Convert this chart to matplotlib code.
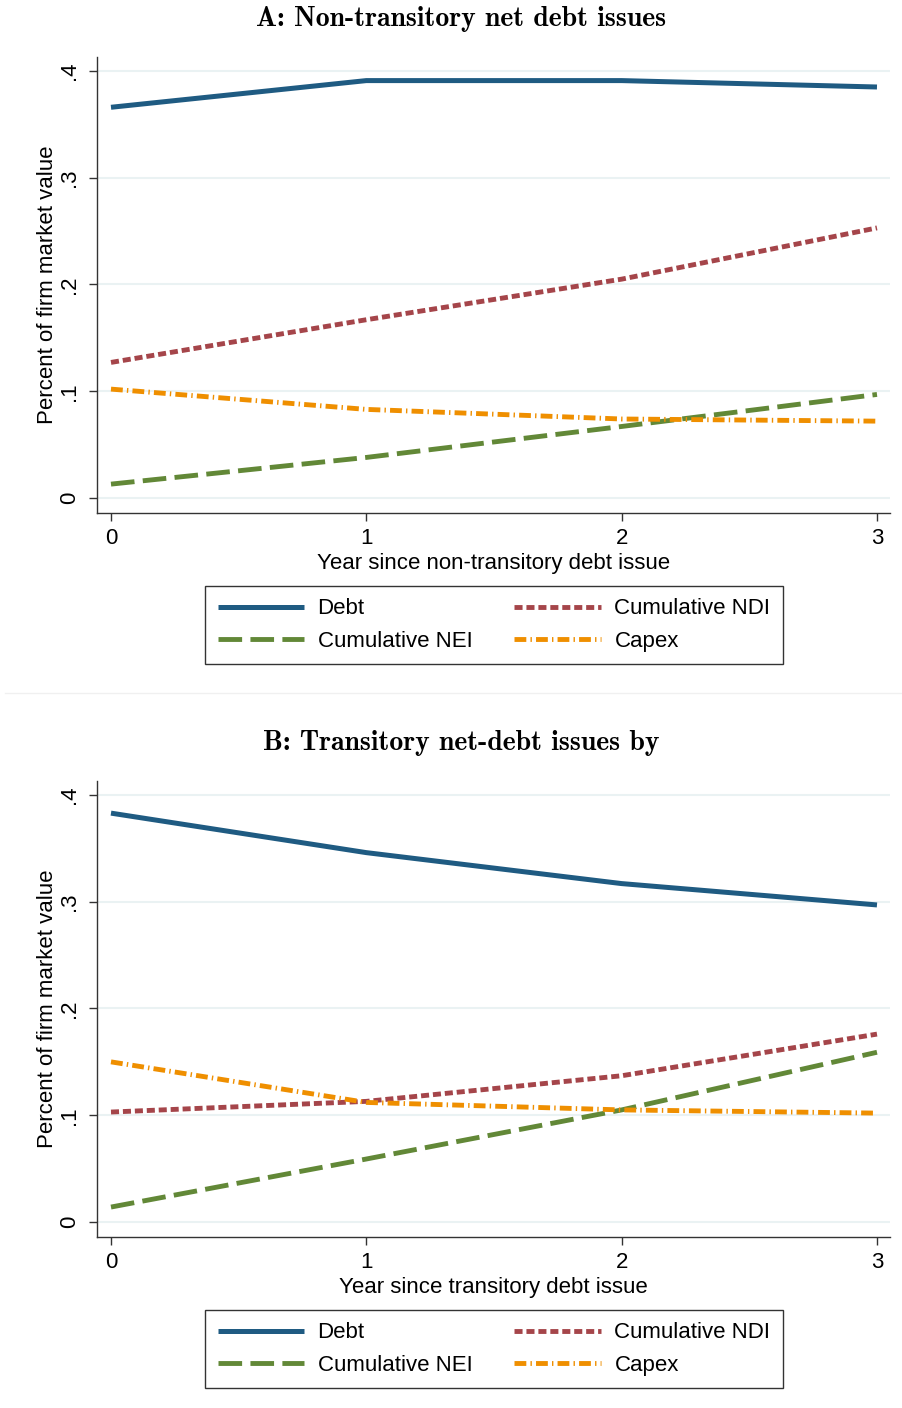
import matplotlib
matplotlib.use("Agg")
import matplotlib.pyplot as plt
from matplotlib.lines import Line2D

plt.rcParams['font.family'] = ['Liberation Sans', 'DejaVu Sans']
plt.rcParams['lines.scale_dashes'] = False

years = [0, 1, 2, 3]

# panel A: non-transitory issues
debt_a = [0.366, 0.391, 0.391, 0.385]
ndi_a = [0.127, 0.167, 0.205, 0.253]
nei_a = [0.013, 0.038, 0.067, 0.097]
capex_a = [0.102, 0.083, 0.074, 0.072]

# panel B: transitory issues
debt_b = [0.383, 0.346, 0.317, 0.297]
ndi_b = [0.103, 0.113, 0.137, 0.176]
nei_b = [0.014, 0.059, 0.105, 0.159]
capex_b = [0.150, 0.112, 0.105, 0.102]

titles = ['A: Non-transitory net debt issues', 'B: Transitory net-debt issues by']
xlabels = ['Year since non-transitory debt issue', 'Year since transitory debt issue']
yticks = [0, 0.1, 0.2, 0.3, 0.4]
ytick_labels = ['0', '.1', '.2', '.3', '.4']
series_names = ['Debt', 'Cumulative NEI', 'Cumulative NDI', 'Capex']

W, H = 902, 1408
fig = plt.figure(figsize=(W / 100, H / 100), dpi=100)


def px_axes(left, top, right, bottom):
    return fig.add_axes([left / W, 1 - bottom / H, (right - left) / W, (bottom - top) / H])


def draw_panel(offset, title, xlabel, debt, ndi, nei, capex):
    ax = px_axes(97, 57 + offset, 890, 513 + offset)
    styles = {
        'Debt': dict(color='#1f5b82', lw=3.6, ls='-'),
        'Cumulative NEI': dict(color='#628837', lw=3.5, dashes=(17, 6)),
        'Cumulative NDI': dict(color='#a5454a', lw=3.5, dashes=(5.8, 2.8)),
        'Capex': dict(color='#ef8f00', lw=3.5, dashes=(8.5, 3, 1, 3)),
    }
    values = {'Debt': debt, 'Cumulative NEI': nei, 'Cumulative NDI': ndi, 'Capex': capex}
    handles = []
    for name in series_names:
        st = styles[name]
        ln, = ax.plot(years, values[name], label=name, solid_capstyle='butt',
                      dash_capstyle='butt', **st)
        handles.append(ln)

    ax.set_xlim(-0.0548, 3.051)
    ax.set_ylim(-0.01405, 0.4131)
    ax.set_xticks(years)
    ax.set_yticks(yticks)
    ax.set_yticklabels(ytick_labels, rotation=90, va='center')
    ax.tick_params(axis='both', labelsize=16, length=6, width=1, color='#333333', pad=5)
    ax.tick_params(axis='y', pad=6)
    ax.grid(axis='y', color='#eaf2f3', lw=1.5)
    ax.set_axisbelow(True)
    for side in ['top', 'right']:
        ax.spines[side].set_visible(False)
    for side in ['left', 'bottom']:
        ax.spines[side].set_color('#333333')
        ax.spines[side].set_linewidth(1)

    ax.set_xlabel(xlabel, fontsize=16, labelpad=3)
    ax.set_ylabel('Percent of firm market value', fontsize=16, labelpad=1)
    fig.text(461 / W, 1 - (19 + offset) / H, title, family='cmb10', fontsize=20,
             ha='center', va='center')

    leg = ax.legend(handles=handles, ncol=2, loc='center',
                    bbox_to_anchor=(494 / W, 1 - (625 + offset) / H),
                    bbox_transform=fig.transFigure, fontsize=16, frameon=True,
                    fancybox=False, edgecolor='black', handlelength=3.9,
                    handletextpad=0.6, columnspacing=1.9, labelspacing=0.5,
                    borderpad=0.55)
    leg.get_frame().set_linewidth(1)
    return ax


draw_panel(0, titles[0], xlabels[0], debt_a, ndi_a, nei_a, capex_a)
draw_panel(724, titles[1], xlabels[1], debt_b, ndi_b, nei_b, capex_b)

# faint divider between the two panels
fig.add_artist(Line2D([5 / W, 1], [1 - 693 / H, 1 - 693 / H], transform=fig.transFigure,
                      color='#f0f0f0', lw=1))

fig.savefig('out.png', dpi=100)
